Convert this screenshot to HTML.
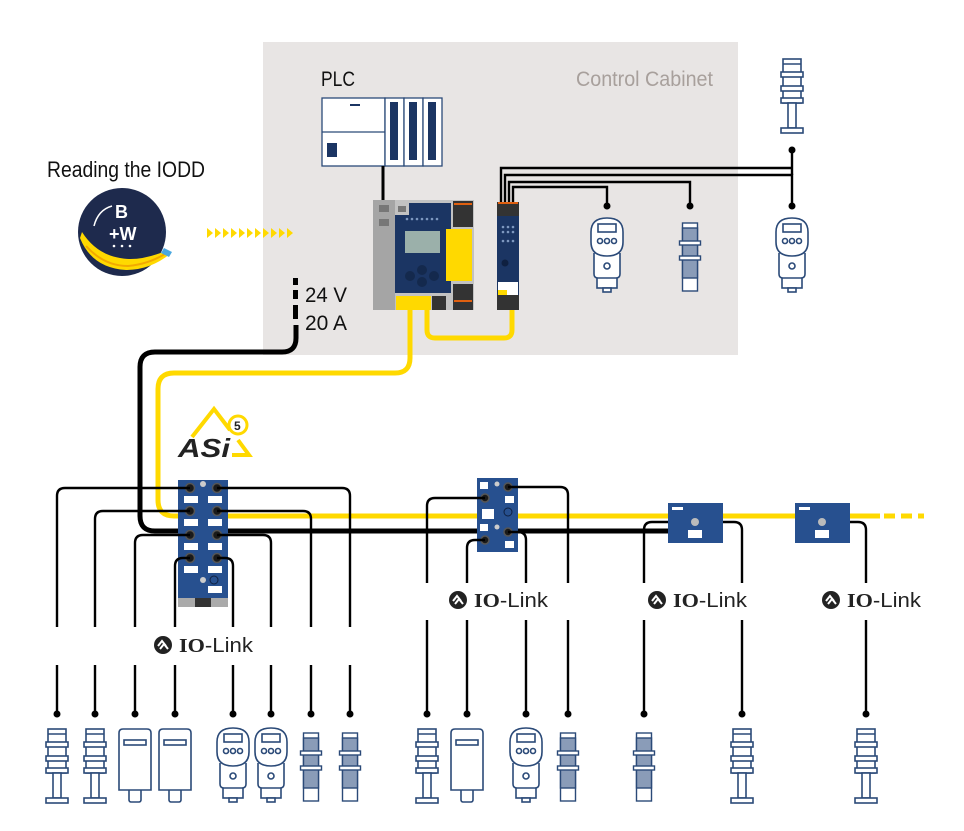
<!DOCTYPE html>
<html><head><meta charset="utf-8"><style>
html,body{margin:0;padding:0;background:#fff;}
svg{display:block;}
.t{font-family:"Liberation Sans Narrow","Liberation Sans",sans-serif;}
.io{font-family:"Liberation Sans",sans-serif;font-size:20px;fill:#222;}
</style></head><body>
<svg width="964" height="831" viewBox="0 0 964 831" xmlns="http://www.w3.org/2000/svg">
<defs>
<symbol id="tower" overflow="visible">
 <g fill="#fff" stroke="#2b4a78" stroke-width="1.6">
  <rect x="-9" y="1" width="18" height="44"/>
  <rect x="-11" y="14" width="22" height="5"/>
  <rect x="-11" y="28" width="22" height="5"/>
  <rect x="-11" y="40" width="22" height="5"/>
  <line x1="-9" y1="6" x2="9" y2="6"/>
  <rect x="-4" y="45" width="8" height="25"/>
  <rect x="-11" y="70" width="22" height="5"/>
 </g>
</symbol>
<symbol id="box" overflow="visible">
 <g fill="#fff" stroke="#2b4a78" stroke-width="1.6">
  <rect x="-6" y="58" width="12" height="15" rx="2"/>
  <path d="M-16 61 V4 Q-16 0 -12 0 H12 Q16 0 16 4 V61 Z"/>
  <rect x="-11" y="11" width="22" height="5"/>
 </g>
</symbol>
<symbol id="press" overflow="visible">
 <g fill="#fff" stroke="#2b4a78" stroke-width="1.6">
  <rect x="-10" y="58" width="20" height="12"/>
  <rect x="-4" y="70" width="8" height="4"/>
  <path d="M-13 35 V56 Q-13 60 -9 60 H9 Q13 60 13 56 V35"/>
  <path d="M-16 14 Q-16 0 0 0 Q16 0 16 14 V24 Q16 38 0 38 Q-16 38 -16 24 Z"/>
  <rect x="-9" y="6" width="18" height="8"/>
  <circle cx="-7" cy="23" r="2.5"/><circle cx="0" cy="23" r="2.5"/><circle cx="7" cy="23" r="2.5"/>
  <circle cx="0" cy="48" r="3"/>
 </g>
</symbol>
<symbol id="cyl" overflow="visible">
 <g stroke="#2b4a78" stroke-width="1.4">
  <rect x="-7.5" y="0" width="15" height="68" fill="#fff"/>
  <rect x="-7.5" y="5" width="15" height="50" fill="#8a9cb8"/>
  <rect x="-10.5" y="18" width="21" height="4" fill="#fff"/>
  <rect x="-10.5" y="33" width="21" height="4" fill="#fff"/>
 </g>
</symbol>
<symbol id="iol" overflow="visible">
 <circle r="9" fill="#222"/>
 <path d="M-5 1 L-1 -4 L3 1 M-3 4 L1 -1 L5 4" stroke="#fff" stroke-width="2" fill="none"/>
</symbol>
</defs>

<!-- cabinet -->
<rect x="263" y="42" width="475" height="313" fill="#e8e5e4"/>
<text x="576" y="86" class="t" font-size="21" fill="#a8a09c" textLength="137" lengthAdjust="spacingAndGlyphs">Control Cabinet</text>
<text x="321" y="86" class="t" font-size="21" fill="#111" textLength="34" lengthAdjust="spacingAndGlyphs">PLC</text>
<text x="47" y="177" class="t" font-size="22" fill="#111" textLength="158" lengthAdjust="spacingAndGlyphs">Reading the IODD</text>

<!-- PLC -->
<g fill="#fff" stroke="#2b4a78" stroke-width="1.3">
 <rect x="322" y="98" width="63" height="68"/>
 <line x1="322" y1="132" x2="385" y2="132"/>
 <rect x="385" y="98" width="19" height="68"/>
 <rect x="404" y="98" width="19" height="68"/>
 <rect x="423" y="98" width="19" height="68"/>
</g>
<rect x="390" y="102" width="8" height="58" fill="#1b3563"/>
<rect x="409" y="102" width="8" height="58" fill="#1b3563"/>
<rect x="428" y="102" width="8" height="58" fill="#1b3563"/>
<rect x="327" y="143" width="10" height="14" fill="#1b3563"/>
<rect x="350" y="104" width="10" height="2" fill="#1b3563"/>
<line x1="383" y1="166" x2="383" y2="200" stroke="#000" stroke-width="3"/>

<!-- controller -->
<rect x="373" y="200" width="101" height="110" fill="#c2c2c2"/>
<rect x="373" y="200" width="22" height="110" fill="#a5a5a5"/>
<rect x="379" y="205" width="10" height="7" fill="#777"/>
<rect x="379" y="219" width="10" height="7" fill="#777"/>
<rect x="395" y="203" width="56" height="90" fill="#1b3563"/>
<rect x="395" y="203" width="14" height="12" fill="#c2c2c2"/>
<rect x="398" y="206" width="8" height="6" fill="#777"/>
<g fill="#7e98c0"><circle cx="407" cy="219" r="1.3"/><circle cx="412" cy="219" r="1.3"/><circle cx="417" cy="219" r="1.3"/><circle cx="422" cy="219" r="1.3"/><circle cx="427" cy="219" r="1.3"/><circle cx="432" cy="219" r="1.3"/><circle cx="437" cy="219" r="1.3"/></g>
<rect x="405" y="231" width="35" height="22" fill="#9bb0aa"/>
<g fill="#14294d"><circle cx="410" cy="276" r="5"/><circle cx="422" cy="270" r="5"/><circle cx="422" cy="282" r="5"/><circle cx="434" cy="276" r="5"/></g>
<rect x="446" y="229" width="26" height="52" fill="#ffd900"/>
<rect x="453" y="201" width="20" height="26" fill="#333"/>
<rect x="454" y="203" width="18" height="2" fill="#e06010"/>
<rect x="453" y="284" width="20" height="26" fill="#333"/>
<rect x="454" y="300" width="18" height="2" fill="#e06010"/>
<rect x="396" y="296" width="35" height="14" fill="#ffd900"/>
<rect x="432" y="296" width="14" height="14" fill="#333"/>

<!-- gateway -->
<rect x="497" y="202" width="22" height="14" fill="#333"/>
<rect x="498" y="202" width="20" height="2" fill="#e06010"/>
<rect x="497" y="216" width="22" height="80" fill="#1b3563"/>
<g fill="#7e98c0"><circle cx="503" cy="227" r="1.3"/><circle cx="508" cy="227" r="1.3"/><circle cx="513" cy="227" r="1.3"/><circle cx="503" cy="232" r="1.3"/><circle cx="508" cy="232" r="1.3"/><circle cx="513" cy="232" r="1.3"/><circle cx="503" cy="241" r="1.3"/><circle cx="508" cy="241" r="1.3"/><circle cx="513" cy="241" r="1.3"/></g>
<circle cx="505" cy="263" r="3.5" fill="#0f2040"/>
<rect x="498" y="282" width="20" height="13" fill="#fff"/>
<rect x="498" y="290" width="9" height="5" fill="#ffd900"/>
<rect x="497" y="295" width="22" height="15" fill="#333"/>

<!-- gateway wires -->
<g fill="none" stroke="#000" stroke-width="2.4">
 <path d="M501 202 V168 H792"/>
 <path d="M505 202 V175 H792 V206"/>
 <path d="M509 202 V182 H690 V206"/>
 <path d="M513 202 V187 H607 V206"/>
 <path d="M792 150 V175"/>
</g>
<g fill="#000"><circle cx="792" cy="150" r="3.5"/><circle cx="792" cy="206" r="3.5"/><circle cx="690" cy="206" r="3.5"/><circle cx="607" cy="206" r="3.5"/></g>
<use href="#tower" x="792" y="58"/>
<use href="#press" x="607" y="218"/>
<use href="#press" x="792" y="218"/>
<use href="#cyl" x="690" y="223"/>

<!-- IODD logo -->
<circle cx="122" cy="232" r="44" fill="#1e2a4d"/>
<path d="M80 238 Q92 268 126 270 Q150 270 170 254 L168 250 Q140 262 120 258 Q96 254 82 232 Z" fill="#ffd900"/>
<path d="M86 246 Q104 266 128 266 Q150 264 168 252" fill="none" stroke="#f2a900" stroke-width="2"/>
<path d="M164 248 L172 252 L169 257 L161 253 Z" fill="#4aa8e0"/>
<text x="115" y="218" font-family="Liberation Sans,sans-serif" font-weight="bold" font-size="18" fill="#fff">B</text>
<text x="109" y="240" font-family="Liberation Sans,sans-serif" font-weight="bold" font-size="18" fill="#fff">+W</text>
<path d="M94 226 Q98 210 112 206" fill="none" stroke="#fff" stroke-width="1.5"/>
<g fill="#fff"><circle cx="114" cy="246" r="1.3"/><circle cx="122" cy="246" r="1.3"/><circle cx="130" cy="246" r="1.3"/></g>
<g fill="#ffd900">
 <path d="M207 228 l6 5 l-6 5z"/><path d="M215 228 l6 5 l-6 5z"/><path d="M223 228 l6 5 l-6 5z"/><path d="M231 228 l6 5 l-6 5z"/><path d="M239 228 l6 5 l-6 5z"/><path d="M247 228 l6 5 l-6 5z"/><path d="M255 228 l6 5 l-6 5z"/><path d="M263 228 l6 5 l-6 5z"/><path d="M271 228 l6 5 l-6 5z"/><path d="M279 228 l6 5 l-6 5z"/><path d="M287 228 l6 5 l-6 5z"/>
</g>

<!-- 24V -->
<g fill="#000"><rect x="293" y="278" width="5" height="7"/><rect x="293" y="290" width="5" height="9"/><rect x="293" y="305" width="5" height="14"/></g>
<text x="305" y="302" class="t" font-size="21" fill="#111" textLength="42" lengthAdjust="spacingAndGlyphs">24 V</text>
<text x="305" y="330" class="t" font-size="21" fill="#111" textLength="42" lengthAdjust="spacingAndGlyphs">20 A</text>

<!-- main cables -->
<path d="M427 310 V330 Q427 338 435 338 H504 Q512 338 512 330 V310" fill="none" stroke="#ffd900" stroke-width="5"/>
<path d="M410 310 V358 Q410 373 395 373 H174 Q158 373 158 389 V500 Q158 516 174 516 H880" fill="none" stroke="#ffd900" stroke-width="5"/>
<path d="M884 516 H924" fill="none" stroke="#ffd900" stroke-width="5" stroke-dasharray="11 6"/>
<path d="M296 325 V338 Q296 352 282 352 H155 Q140 352 140 367 V516 Q140 531 155 531 H700" fill="none" stroke="#000" stroke-width="5"/>

<!-- ASi logo -->
<path d="M192 437 L214 409 L230 430" fill="none" stroke="#ffd900" stroke-width="4"/>
<path d="M238 440 L249 455 L232 455" fill="none" stroke="#ffd900" stroke-width="4"/>
<circle cx="238" cy="425" r="9" fill="#fff" stroke="#ffd900" stroke-width="3"/>
<text x="234" y="430" font-family="Liberation Sans,sans-serif" font-weight="bold" font-size="12" fill="#222">5</text>
<text x="178" y="457" font-family="Liberation Sans,sans-serif" font-weight="bold" font-style="italic" font-size="26" fill="#222" textLength="52" lengthAdjust="spacingAndGlyphs">ASi</text>

<!-- module 1 -->
<rect x="178" y="480" width="50" height="127" fill="#27508f"/>
<rect x="178" y="598" width="50" height="9" fill="#aaa"/>
<rect x="195" y="598" width="16" height="9" fill="#333"/>
<g fill="#fff"><rect x="184" y="496" width="14" height="7"/><rect x="208" y="496" width="14" height="7"/><rect x="184" y="519" width="14" height="7"/><rect x="208" y="519" width="14" height="7"/><rect x="184" y="543" width="14" height="7"/><rect x="208" y="543" width="14" height="7"/><rect x="184" y="566" width="14" height="7"/><rect x="208" y="566" width="14" height="7"/><rect x="208" y="586" width="14" height="7"/></g>
<circle cx="203" cy="484" r="3" fill="#ccc"/><circle cx="203" cy="580" r="3" fill="#ccc"/>
<circle cx="214" cy="580" r="4" fill="none" stroke="#0f2040" stroke-width="1"/>
<g fill="#1a1a1a" stroke="#555" stroke-width="1.5"><circle cx="190" cy="488" r="4.5"/><circle cx="217" cy="488" r="4.5"/><circle cx="190" cy="511" r="4.5"/><circle cx="217" cy="511" r="4.5"/><circle cx="190" cy="535" r="4.5"/><circle cx="217" cy="535" r="4.5"/><circle cx="190" cy="558" r="4.5"/><circle cx="217" cy="558" r="4.5"/></g>

<!-- module 2 -->
<rect x="477" y="478" width="41" height="74" fill="#27508f"/>
<g fill="#fff"><rect x="480" y="482" width="8" height="7"/><rect x="505" y="496" width="9" height="7"/><rect x="482" y="509" width="12" height="10"/><rect x="480" y="524" width="8" height="7"/><rect x="505" y="541" width="9" height="7"/></g>
<circle cx="497" cy="484" r="2.5" fill="#ccc"/><circle cx="497" cy="527" r="2.5" fill="#ccc"/>
<circle cx="508" cy="512" r="4" fill="none" stroke="#0f2040" stroke-width="1"/>
<g fill="#1a1a1a" stroke="#555" stroke-width="1.5"><circle cx="485" cy="498" r="4"/><circle cx="508" cy="487" r="4"/><circle cx="485" cy="540" r="4"/><circle cx="508" cy="532" r="4"/></g>

<!-- modules 3,4 -->
<rect x="668" y="503" width="55" height="40" fill="#27508f"/>
<rect x="672" y="507" width="11" height="3" fill="#fff"/>
<circle cx="695" cy="522" r="4" fill="#bbb"/><rect x="688" y="530" width="14" height="8" fill="#fff"/>
<rect x="795" y="503" width="55" height="40" fill="#27508f"/>
<rect x="799" y="507" width="11" height="3" fill="#fff"/>
<circle cx="822" cy="522" r="4" fill="#bbb"/><rect x="815" y="530" width="14" height="8" fill="#fff"/>

<!-- field wires -->
<g fill="none" stroke="#000" stroke-width="2.4">
 <path d="M190 488 H65 Q57 488 57 496 V627"/>
 <path d="M217 488 H342 Q350 488 350 496 V627"/>
 <path d="M190 511 H103 Q95 511 95 519 V627"/>
 <path d="M217 511 H303 Q311 511 311 519 V627"/>
 <path d="M190 535 H143 Q135 535 135 543 V627"/>
 <path d="M217 535 H263 Q271 535 271 543 V627"/>
 <path d="M190 558 H183 Q175 558 175 566 V627"/>
 <path d="M217 558 H225 Q233 558 233 566 V627"/>
 <path d="M485 498 H435 Q427 498 427 506 V583"/>
 <path d="M508 487 H560 Q568 487 568 495 V583"/>
 <path d="M485 540 H475 Q467 540 467 548 V583"/>
 <path d="M508 532 H518 Q526 532 526 540 V583"/>
 <path d="M668 522 H652 Q644 522 644 530 V583"/>
 <path d="M723 522 H734 Q742 522 742 530 V583"/>
 <path d="M850 522 H858 Q866 522 866 530 V583"/>
 <path d="M57 665 V714 M95 665 V714 M135 665 V714 M175 665 V714 M233 665 V714 M271 665 V714 M311 665 V714 M350 665 V714"/>
 <path d="M427 620 V714 M467 620 V714 M526 620 V714 M568 620 V714 M644 620 V714 M742 620 V714 M866 620 V714"/>
</g>
<g fill="#000">
 <circle cx="57" cy="714" r="3.5"/><circle cx="95" cy="714" r="3.5"/><circle cx="135" cy="714" r="3.5"/><circle cx="175" cy="714" r="3.5"/><circle cx="233" cy="714" r="3.5"/><circle cx="271" cy="714" r="3.5"/><circle cx="311" cy="714" r="3.5"/><circle cx="350" cy="714" r="3.5"/><circle cx="427" cy="714" r="3.5"/><circle cx="467" cy="714" r="3.5"/><circle cx="526" cy="714" r="3.5"/><circle cx="568" cy="714" r="3.5"/><circle cx="644" cy="714" r="3.5"/><circle cx="742" cy="714" r="3.5"/><circle cx="866" cy="714" r="3.5"/>
</g>

<!-- IO-Link labels -->
<use href="#iol" x="163" y="645"/><text x="179" y="652" class="io" textLength="74" lengthAdjust="spacingAndGlyphs"><tspan font-weight="bold" font-family="Liberation Serif,serif">IO</tspan>-Link</text>
<use href="#iol" x="458" y="600"/><text x="474" y="607" class="io" textLength="74" lengthAdjust="spacingAndGlyphs"><tspan font-weight="bold" font-family="Liberation Serif,serif">IO</tspan>-Link</text>
<use href="#iol" x="657" y="600"/><text x="673" y="607" class="io" textLength="74" lengthAdjust="spacingAndGlyphs"><tspan font-weight="bold" font-family="Liberation Serif,serif">IO</tspan>-Link</text>
<use href="#iol" x="831" y="600"/><text x="847" y="607" class="io" textLength="74" lengthAdjust="spacingAndGlyphs"><tspan font-weight="bold" font-family="Liberation Serif,serif">IO</tspan>-Link</text>

<!-- bottom sensors -->
<use href="#tower" x="57" y="728"/>
<use href="#tower" x="95" y="728"/>
<use href="#box" x="135" y="729"/>
<use href="#box" x="175" y="729"/>
<use href="#press" x="233" y="728"/>
<use href="#press" x="271" y="728"/>
<use href="#cyl" x="311" y="733"/>
<use href="#cyl" x="350" y="733"/>
<use href="#tower" x="427" y="728"/>
<use href="#box" x="467" y="729"/>
<use href="#press" x="526" y="728"/>
<use href="#cyl" x="568" y="733"/>
<use href="#cyl" x="644" y="733"/>
<use href="#tower" x="742" y="728"/>
<use href="#tower" x="866" y="728"/>
</svg>
</body></html>
